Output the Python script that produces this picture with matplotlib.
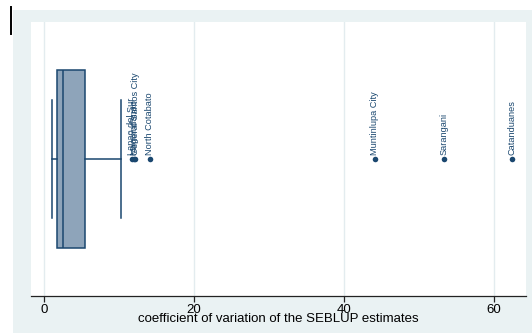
import matplotlib
matplotlib.use("Agg")
import matplotlib.pyplot as plt
from matplotlib.lines import Line2D
from matplotlib.patches import Rectangle

plt.rcParams['font.family'] = ['Liberation Sans', 'DejaVu Sans']

# Box summary of the coefficient of variation (%)
box_whislo = 1.0
box_q1 = 1.7
box_median = 2.5
box_q3 = 5.4
box_whishi = 10.2

# Outlying provinces / cities
outlier_names = ["Lanao del Sur", "Maguindanao", "General Santos City",
                 "North Cotabato", "Muntinlupa City", "Sarangani", "Catanduanes"]
outlier_values = [11.7, 11.95, 12.15, 14.1, 44.1, 53.3, 62.4]

x_ticks = [0, 20, 40, 60]
x_label = "coefficient of variation of the SEBLUP estimates"

navy = "#1a476f"
box_fill = "#8ea4ba"
bg = "#eaf2f3"
grid_col = "#e3ecef"

fig = plt.figure(figsize=(5.32, 3.33), dpi=100)
fig.patch.set_facecolor("white")

# outer graph region
fig.patches.append(Rectangle((13 / 532, 0), 1 - 13 / 532, 1 - 10 / 333,
                             transform=fig.transFigure, facecolor=bg,
                             edgecolor="none", zorder=0))
fig.lines.append(Line2D([10.5 / 532, 10.5 / 532], [1 - 7 / 333, 1 - 34 / 333],
                        transform=fig.transFigure, color="black", lw=1.4))

ax = fig.add_axes([30.5 / 532, 1 - 296 / 333, (525.7 - 30.5) / 532, (296 - 22) / 333])
ax.set_facecolor("white")
ax.set_zorder(1)

stats = [dict(whislo=box_whislo, q1=box_q1, med=box_median, q3=box_q3,
              whishi=box_whishi, fliers=[])]
ax.bxp(stats, positions=[0.5], widths=[0.652], vert=False, patch_artist=True,
       showfliers=False, capwidths=[0.434],
       boxprops=dict(facecolor=box_fill, edgecolor=navy, linewidth=1.1),
       medianprops=dict(color=navy, linewidth=1.1),
       whiskerprops=dict(color=navy, linewidth=1.1),
       capprops=dict(color=navy, linewidth=1.1))

ax.scatter(outlier_values, [0.5] * len(outlier_values), s=16, color=navy,
           zorder=3, linewidths=0)
for name, v in zip(outlier_names, outlier_values):
    ax.annotate(name, (v, 0.5), xytext=(0, 3), textcoords="offset points",
                rotation=90, ha="center", va="bottom", fontsize=6.6, color=navy)

ax.set_xlim(-1.8, 64.2)
ax.set_ylim(0, 1)
ax.set_xticks(x_ticks)
ax.set_xticklabels([str(t) for t in x_ticks], fontsize=9.5)
ax.set_yticks([])
ax.set_xlabel(x_label, fontsize=9.5, labelpad=-2)
ax.grid(axis="x", color=grid_col, lw=1)
ax.set_axisbelow(True)
for s in ["top", "right", "left"]:
    ax.spines[s].set_visible(False)
ax.spines["bottom"].set_color("#222222")
ax.spines["bottom"].set_linewidth(0.9)
ax.tick_params(axis="x", length=4, width=0.9, color="#222222", pad=1.5)

fig.savefig("out.png", dpi=100)
